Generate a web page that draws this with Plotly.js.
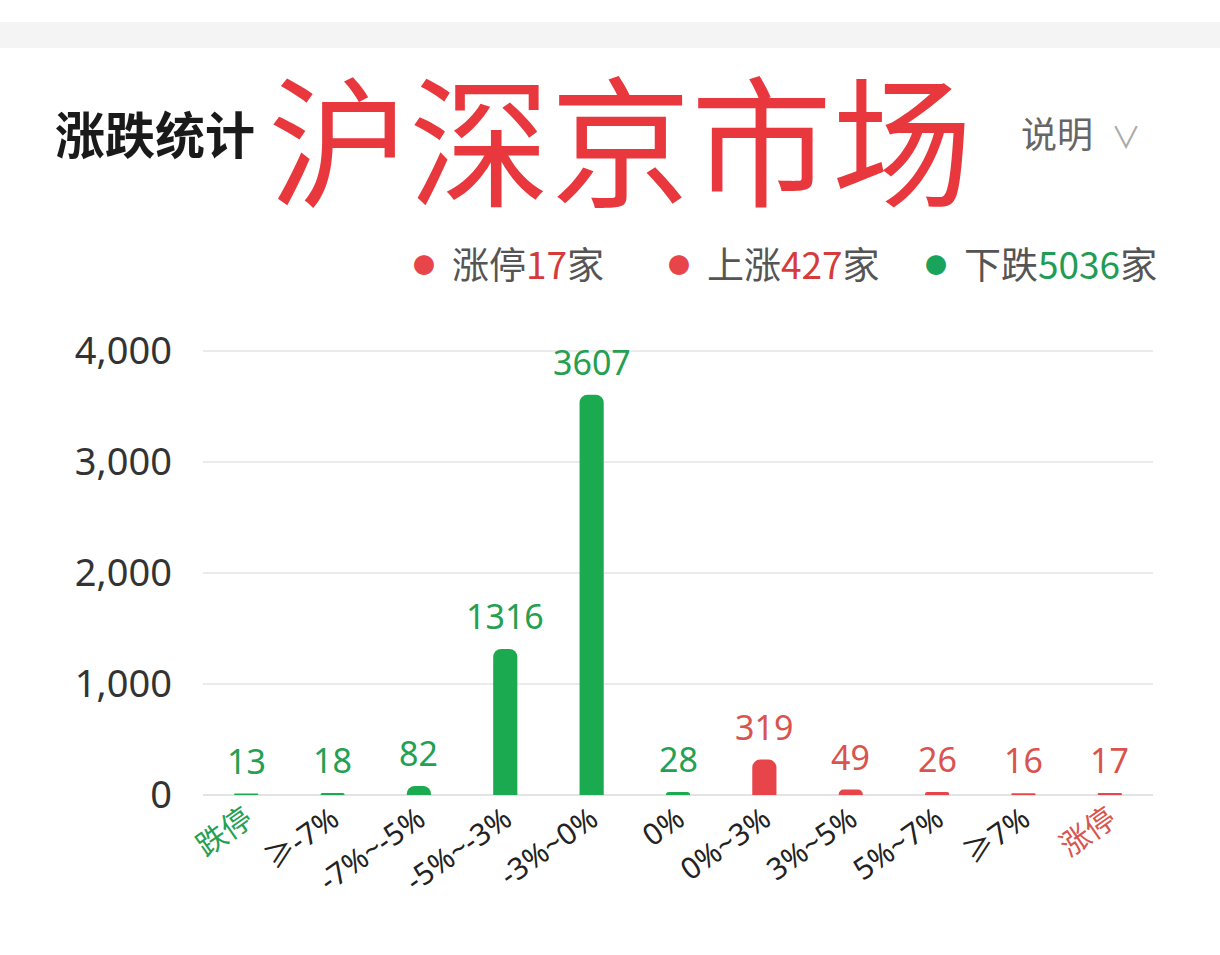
<!DOCTYPE html>
<html>
<head>
<meta charset="utf-8">
<script src="https://cdn.plot.ly/plotly-3.0.1.min.js"></script>
<style>
  html, body { margin: 0; padding: 0; background: #ffffff; }
  #chart { width: 1220px; height: 955px; }
</style>
</head>
<body>
<div id="chart"></div>
<script>
// ---- data ----
const categories = ["跌停", "≥-7%", "-7%~-5%", "-5%~-3%", "-3%~0%", "0%", "0%~3%", "3%~5%", "5%~7%", "≥7%", "涨停"];
const counts = [13, 18, 82, 1316, 3607, 28, 319, 49, 26, 16, 17];
const downCount = 5; // first five buckets are declines
const flatIndex = 5; // "0%" bucket
const yTicks = [0, 1000, 2000, 3000, 4000];
const headerTitle = "涨跌统计";
const marketTitle = "沪深京市场";
const helpText = "说明";

// ---- derived summary values ----
const limitUp = counts[counts.length - 1];
const upTotal = counts.slice(flatIndex + 1).reduce((a, b) => a + b, 0);
const downTotal = counts.slice(0, downCount).reduce((a, b) => a + b, 0);

// ---- styling ----
const GREEN = "#1caa50";
const GREEN_TXT = "#23a052";
const RED = "#e8454a";
const RED_TXT = "#d9534f";
const FONT = "Noto Sans, Noto Sans CJK SC, sans-serif";
const CJK = "Noto Sans CJK SC, Noto Sans, sans-serif";

const barColors = categories.map((c, i) => i <= flatIndex ? GREEN : RED);
const txtColors = categories.map((c, i) => i <= flatIndex ? GREEN_TXT : RED_TXT);

const tickText = categories.map((c, i) => {
  if (i === 0) return '<span style="color:' + GREEN_TXT + '">' + c + '</span>';
  if (i === categories.length - 1) return '<span style="color:' + RED_TXT + '">' + c + '</span>';
  return c;
});

const trace = {
  type: "bar",
  x: categories,
  y: counts,
  width: 0.28,
  marker: { color: barColors, cornerradius: 8, line: { width: 0 } },
  hoverinfo: "skip"
};

// plot area geometry helpers (paper coords)
const L = 203, R = 67, T = 350, B = 160, W = 1220, H = 955;
const pw = W - L - R, ph = H - T - B;
const px = X => (X - L) / pw;
const py = Y => (H - B - Y) / ph;

const annotations = [];
counts.forEach((v, i) => {
  annotations.push({
    x: categories[i], y: v, xref: "x", yref: "y",
    text: String(v), showarrow: false, yanchor: "bottom", yshift: 8,
    font: { family: FONT, size: 34, color: txtColors[i] }
  });
});

// header
annotations.push({
  xref: "paper", yref: "paper", x: px(53), y: py(132), xanchor: "left", yanchor: "middle",
  text: "<b>" + headerTitle + "</b>", showarrow: false,
  font: { family: CJK, size: 50, color: "#1a1a1a" }
});
annotations.push({
  xref: "paper", yref: "paper", x: px(266), y: py(134), xanchor: "left", yanchor: "middle",
  text: marketTitle, showarrow: false,
  font: { family: CJK, size: 141, color: "#e8383d", weight: 400 }
});
annotations.push({
  xref: "paper", yref: "paper", x: px(1019), y: py(132), xanchor: "left", yanchor: "middle",
  text: helpText, showarrow: false,
  font: { family: CJK, size: 36, color: "#666666" }
});
annotations.push({
  xref: "paper", yref: "paper", x: px(1126), y: py(136), xanchor: "center", yanchor: "middle",
  text: "∨", showarrow: false,
  font: { family: FONT, size: 30, color: "#aaaaaa" }
});

// legend
const legendItems = [
  { dotX: 424, txtX: 450, label: "涨停", num: limitUp, color: RED, numColor: "#d63b3b" },
  { dotX: 679, txtX: 705, label: "上涨", num: upTotal, color: RED, numColor: "#d63b3b" },
  { dotX: 936, txtX: 962, label: "下跌", num: downTotal, color: "#1aa35a", numColor: "#1f9d55" }
];
legendItems.forEach(it => {
  annotations.push({
    xref: "paper", yref: "paper", x: px(it.dotX), y: py(264), xanchor: "center", yanchor: "middle",
    text: "●", showarrow: false, font: { family: FONT, size: 22, color: it.color }
  });
  annotations.push({
    xref: "paper", yref: "paper", x: px(it.txtX), y: py(263), xanchor: "left", yanchor: "middle",
    text: it.label + '<span style="color:' + it.numColor + '">' + it.num + '</span>家', showarrow: false,
    font: { family: CJK, size: 37, color: "#555555" }
  });
});

const layout = {
  width: W, height: H,
  margin: { l: L, r: R, t: T, b: B, pad: 0 },
  paper_bgcolor: "#ffffff",
  plot_bgcolor: "#ffffff",
  showlegend: false,
  bargap: 0.72,
  font: { family: FONT, color: "#333333" },
  xaxis: {
    type: "category",
    tickmode: "array",
    tickvals: categories,
    ticktext: tickText,
    tickangle: -35,
    tickfont: { family: FONT, size: 30, color: "#222222" },
    showgrid: false,
    showline: false,
    ticks: "",
    fixedrange: true
  },
  yaxis: {
    range: [0, 4010],
    tickmode: "array",
    tickvals: yTicks,
    tickformat: ",",
    tickfont: { family: FONT, size: 38, color: "#333333" },
    gridcolor: "#ebebeb",
    gridwidth: 2,
    zeroline: true,
    zerolinecolor: "#e3e3e3",
    zerolinewidth: 2,
    showline: false,
    ticks: "",
    ticklabelstandoff: 30,
    fixedrange: true
  },
  shapes: [{
    type: "rect", xref: "paper", yref: "paper",
    x0: px(-10), x1: px(W + 10), y0: py(48), y1: py(22),
    fillcolor: "#f4f4f4", line: { width: 0 }, layer: "below"
  }],
  annotations: annotations
};

Plotly.newPlot("chart", [trace], layout, { displayModeBar: false, staticPlot: true });
</script>
</body>
</html>
